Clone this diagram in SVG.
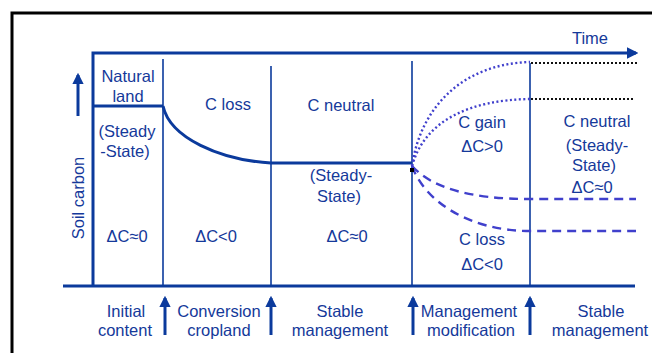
<svg xmlns="http://www.w3.org/2000/svg" width="652" height="353" viewBox="0 0 652 353">
<defs>
<style>
text{font-family:"Liberation Sans",Arial,sans-serif;font-size:16.5px;fill:#15399a;text-anchor:middle}
.ax{stroke:#0b3a9c;stroke-width:3;fill:none}
.dv{stroke:#0b3a9c;stroke-width:1.6;fill:none}
.dot{stroke:#4040cc;stroke-width:2.4;stroke-dasharray:2 2.5;fill:none}
.bdot{stroke:#111;stroke-width:2;stroke-dasharray:2 2;fill:none}
.dash{stroke:#4040cc;stroke-width:2.4;stroke-dasharray:9 6;fill:none}
.ar{stroke:#0b3a9c;stroke-width:3;fill:none}
</style>
<marker id="ah" viewBox="0 0 10 10" refX="8" refY="5" markerWidth="3.8" markerHeight="3.8" orient="auto" markerUnits="strokeWidth">
<path d="M0,0 L10,5 L0,10 z" fill="#0b3a9c"/>
</marker>
</defs>
<rect x="0" y="0" width="652" height="353" fill="#fff"/>
<path d="M12,353 V13 H652" stroke="#000" stroke-width="3" fill="none"/>
<g id="connectors">
<path class="ax" d="M93,286 V53 H636" marker-end="url(#ah)"/>
<path class="ax" d="M63,286 H635"/>
<path class="ax" d="M93,106 H163"/>
<path class="ar" d="M78,116 V75" marker-end="url(#ah)"/>
<path class="dv" d="M163,59 V286"/>
<path class="dv" d="M271,66 V286"/>
<path class="dv" d="M412,61 V286"/>
<path class="dv" d="M530,63 V286"/>
<path class="ax" d="M163,106 C170,138 220,160 271,163 H412"/>
<path class="dot" d="M412,166 C420,110 460,64 530,62"/>
<path class="bdot" d="M531,63 H637"/>
<path class="dot" d="M412,166 C425,120 470,100 530,99"/>
<path class="bdot" d="M531,99 H634"/>
<path class="dash" d="M412,166 C432,188 470,199 530,199 H636"/>
<path class="dash" d="M412,166 C425,202 470,231 530,231 H636"/>
<rect x="410" y="168" width="4" height="4" fill="#000"/>
<path class="ar" d="M165,335 V298" marker-end="url(#ah)"/>
<path class="ar" d="M271,335 V298" marker-end="url(#ah)"/>
<path class="ar" d="M413,335 V298" marker-end="url(#ah)"/>
<path class="ar" d="M530,335 V298" marker-end="url(#ah)"/>
</g>
<g id="axis-labels">
<text x="590" y="44">Time</text>
<text transform="translate(84,198) rotate(-90)">Soil carbon</text>
</g>
<g id="natural"><text x="128" y="82">Natural</text><text x="128" y="102">land</text><text x="127" y="137">(Steady</text><text x="125" y="157">-State)</text><text x="127" y="242">ΔC≈0</text></g>
<g id="closs1"><text x="228" y="110">C loss</text><text x="216" y="242">ΔC&lt;0</text></g>
<g id="cneutral1"><text x="341" y="111">C neutral</text><text x="341" y="181">(Steady-</text><text x="339" y="202">State)</text><text x="347" y="242">ΔC≈0</text></g>
<g id="cgain"><text x="482" y="128">C gain</text><text x="482" y="152">ΔC&gt;0</text></g>
<g id="closs2"><text x="482" y="245">C loss</text><text x="482" y="270">ΔC&lt;0</text></g>
<g id="cneutral2"><text x="597" y="127">C neutral</text><text x="597" y="151">(Steady-</text><text x="594" y="171">State)</text><text x="592" y="193">ΔC≈0</text></g>
<g id="phases">
<text x="126" y="317">Initial</text><text x="125" y="336">content</text>
<text x="219" y="317">Conversion</text><text x="219" y="336">cropland</text>
<text x="340" y="317">Stable</text><text x="340" y="336">management</text>
<text x="469" y="317">Management</text><text x="471" y="336">modification</text>
<text x="601" y="317">Stable</text><text x="600" y="336">management</text>
</g>
</svg>
